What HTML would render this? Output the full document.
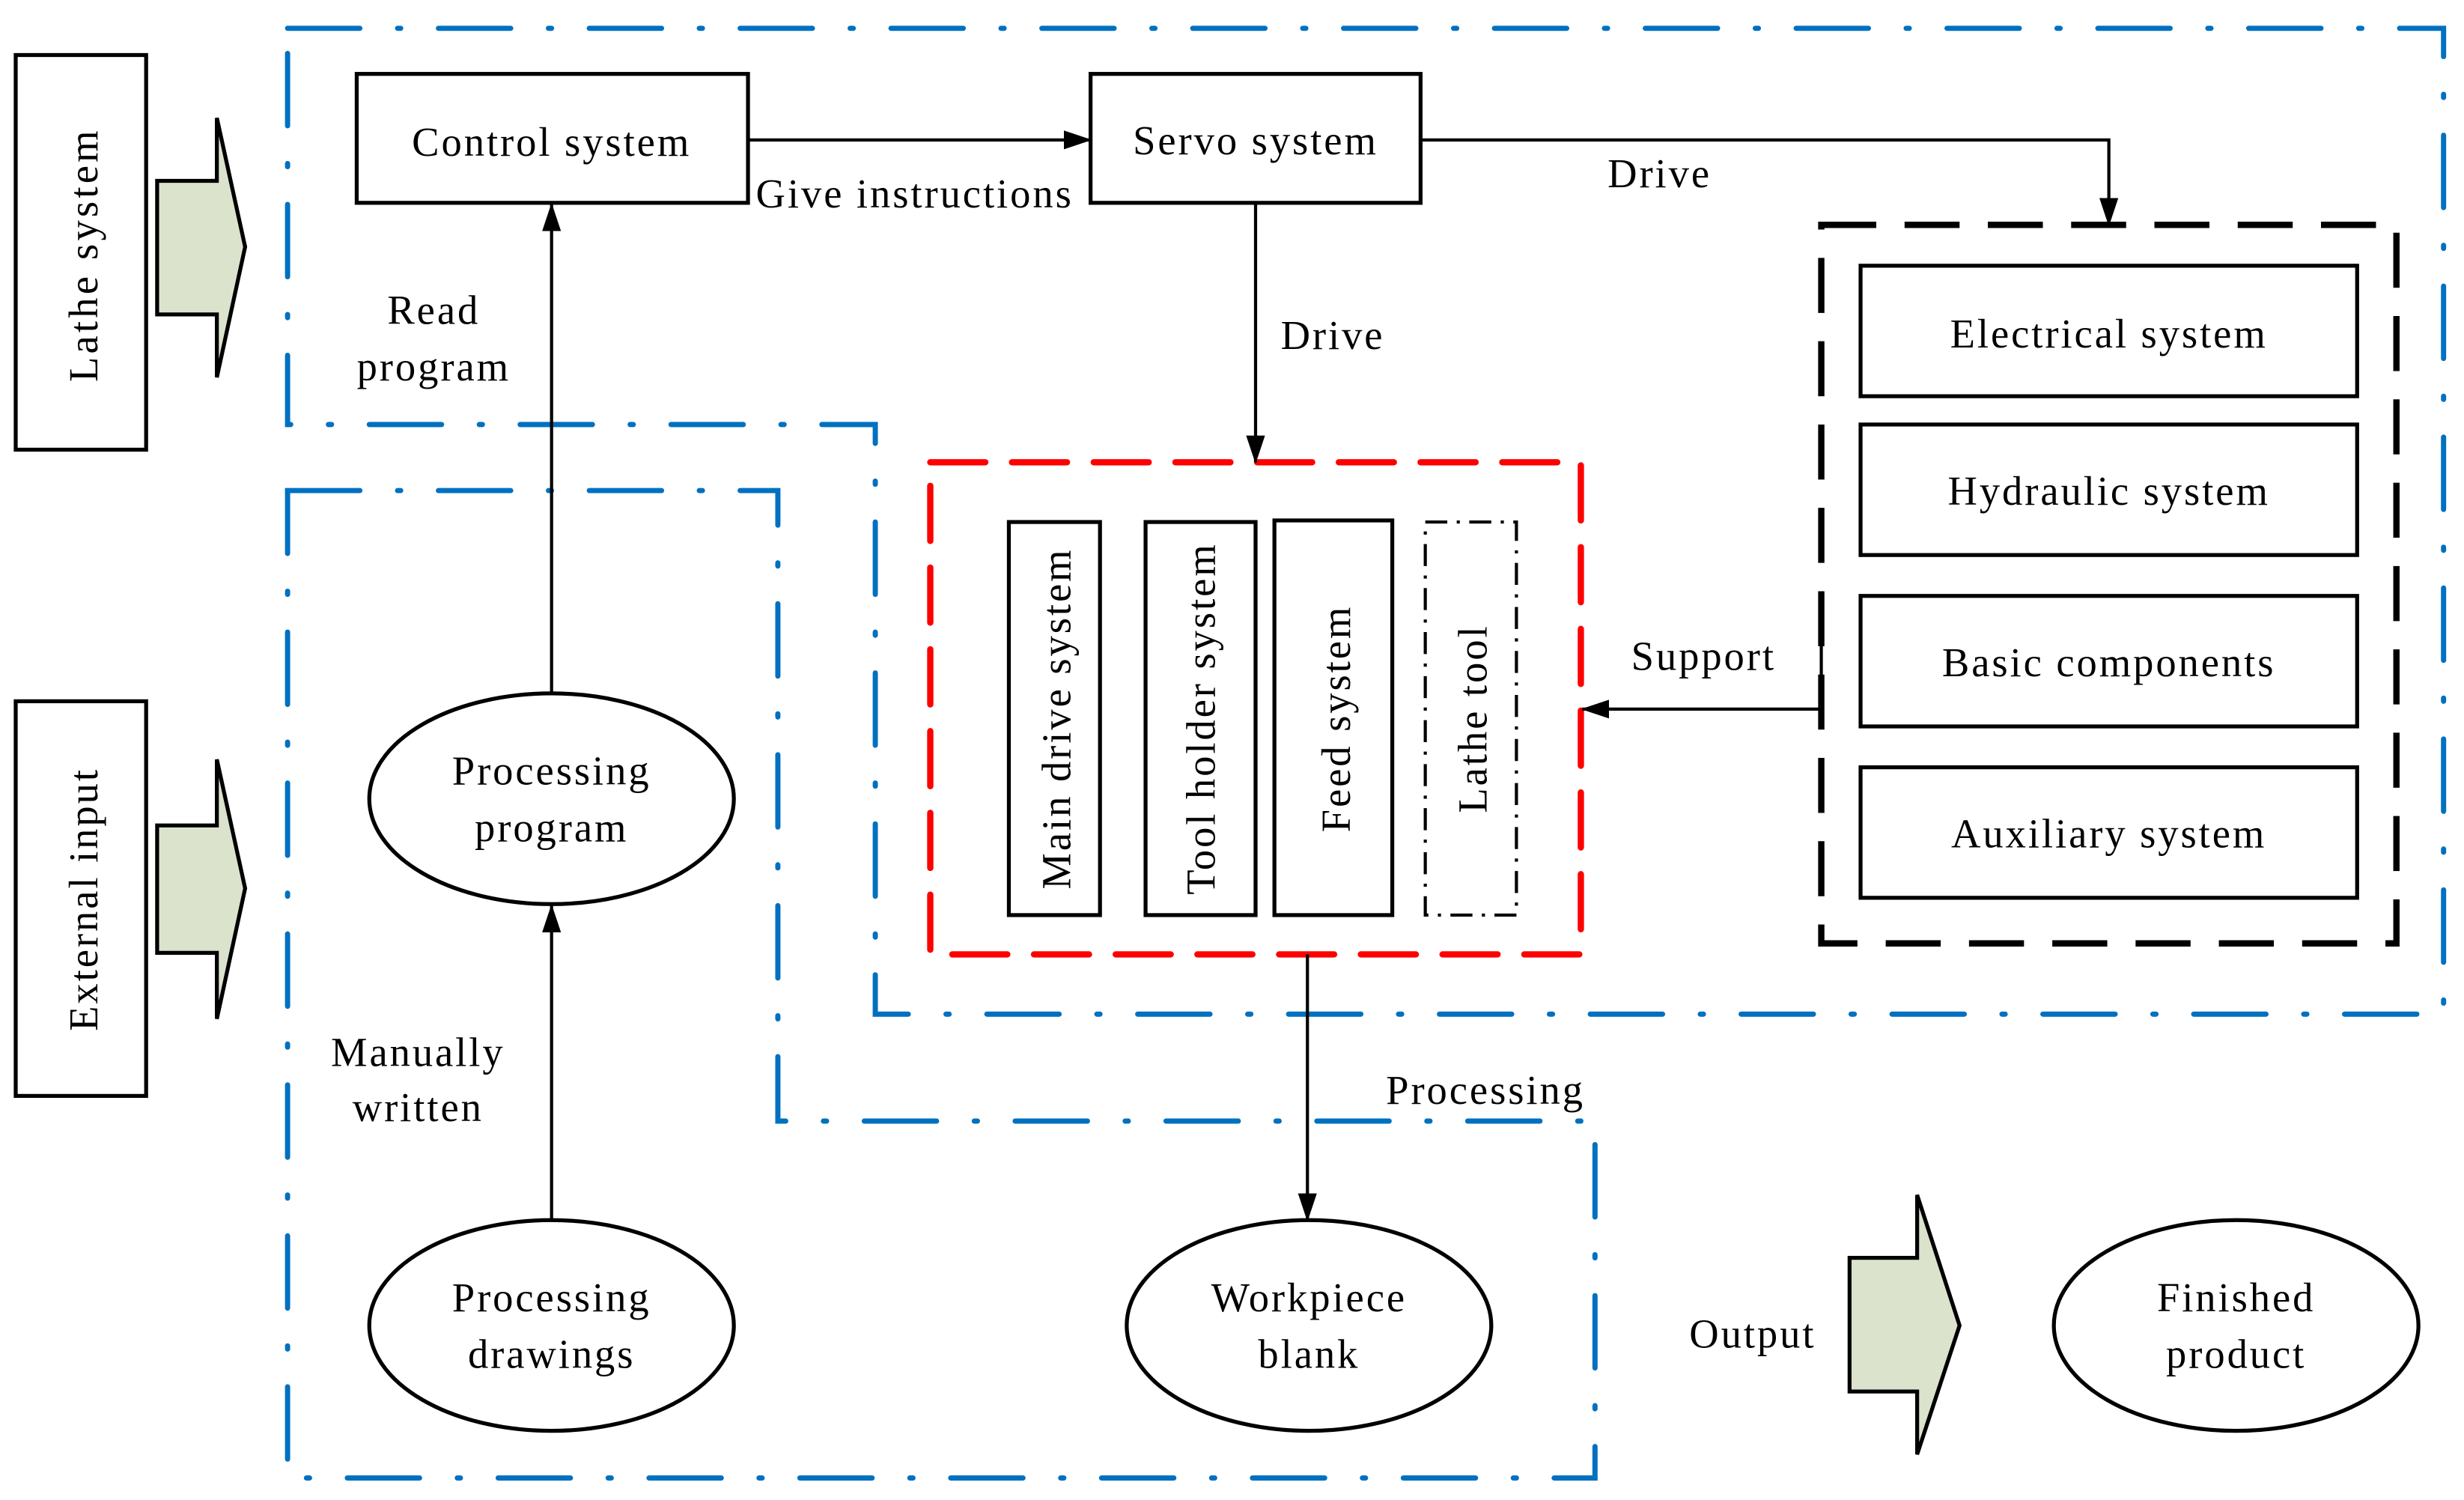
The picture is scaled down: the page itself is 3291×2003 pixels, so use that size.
<!DOCTYPE html>
<html><head><meta charset="utf-8"><style>
html,body{margin:0;padding:0;background:#fff;width:3291px;height:2003px;overflow:hidden}
svg{display:block}
text{font-family:"Liberation Serif",serif;font-size:26px;fill:#000;letter-spacing:1.4px}
</style></head><body>
<svg width="3291" height="2003" viewBox="0 0 1568 954" preserveAspectRatio="none" xmlns="http://www.w3.org/2000/svg">
<defs>
<marker id="ah" markerWidth="18" markerHeight="14" refX="17" refY="7" orient="auto" markerUnits="userSpaceOnUse" viewBox="0 0 18 14">
<path d="M0,1 L18,7 L0,13 z" fill="#000"/></marker>
</defs>
<g fill="none" stroke="#0070c0" stroke-width="3.3" stroke-dasharray="46 24 2 24" stroke-linecap="round">
<path d="M183,18 L1555,18 L1555,645 L557,645 L557,270 L183,270 Z"/>
<path d="M183,312 L495,312 L495,713 L1015,713 L1015,940 L183,940 Z"/>
</g>
<g fill="#fff" stroke="#000" stroke-width="2.5">
<rect x="10" y="35" width="83" height="251"/>
<rect x="10" y="446" width="83" height="251"/>
</g>
<text transform="translate(62,162) rotate(-90)" text-anchor="middle" style="letter-spacing:2px">Lathe system</text>
<text transform="translate(62,572) rotate(-90)" text-anchor="middle">External input</text>
<g fill="#dce3cd" stroke="#000" stroke-width="2.5">
<path d="M100,115 L138,115 L138,75 L156,157 L138,240 L138,200 L100,200 Z"/>
<path d="M100,525 L138,525 L138,483 L156,565 L138,648 L138,606 L100,606 Z"/>
<path d="M1177,800 L1220,800 L1220,760 L1247,843 L1220,925 L1220,885 L1177,885 Z"/>
</g>
<g fill="#fff" stroke="#000" stroke-width="2.5">
<rect x="227" y="47" width="249" height="82"/>
<rect x="694" y="47" width="210" height="82"/>
<rect x="1184" y="169" width="316" height="83"/>
<rect x="1184" y="270" width="316" height="83"/>
<rect x="1184" y="379" width="316" height="83"/>
<rect x="1184" y="488" width="316" height="83"/>
<rect x="642" y="332" width="58" height="250"/>
<rect x="729" y="332" width="70" height="250"/>
<rect x="811" y="331" width="75" height="251"/>
</g>
<rect x="907" y="332" width="58" height="250" fill="none" stroke="#000" stroke-width="2" stroke-dasharray="14 6 2 6"/>
<rect x="592" y="294" width="414" height="313" fill="none" stroke="#ff0000" stroke-width="4" stroke-dasharray="35 17" stroke-linecap="round"/>
<rect x="1159" y="143" width="366" height="457" fill="none" stroke="#000" stroke-width="4" stroke-dasharray="35 18"/>
<g fill="#fff" stroke="#000" stroke-width="2.5">
<ellipse cx="351" cy="508" rx="116" ry="67"/>
<ellipse cx="351" cy="843" rx="116" ry="67"/>
<ellipse cx="833" cy="843" rx="116" ry="67"/>
<ellipse cx="1423" cy="843" rx="116" ry="67"/>
</g>
<g stroke="#000" stroke-width="2" fill="none" marker-end="url(#ah)">
<line x1="476" y1="89" x2="694" y2="89"/>
<path d="M904,89 L1342,89 L1342,143"/>
<line x1="799" y1="129" x2="799" y2="294"/>
<line x1="351" y1="441" x2="351" y2="130"/>
<line x1="351" y1="776" x2="351" y2="576"/>
<line x1="832" y1="607" x2="832" y2="776"/>
<path d="M1159,400 L1159,451 L1007,451"/>
</g>
<g text-anchor="middle">
<text x="351" y="99">Control system</text>
<text x="799" y="98">Servo system</text>
<text x="1342" y="221">Electrical system</text>
<text x="1342" y="321">Hydraulic system</text>
<text x="1342" y="430">Basic components</text>
<text x="1342" y="539">Auxiliary system</text>
<text x="351" y="499">Processing</text>
<text x="351" y="535">program</text>
<text x="351" y="834">Processing</text>
<text x="351" y="870">drawings</text>
<text x="833" y="834">Workpiece</text>
<text x="833" y="870">blank</text>
<text x="1423" y="834">Finished</text>
<text x="1423" y="870">product</text>
<text x="276" y="206">Read</text>
<text x="276" y="242">program</text>
<text x="266" y="678">Manually</text>
<text x="266" y="713">written</text>
</g>
<text x="481" y="132">Give instructions</text>
<text x="1023" y="119">Drive</text>
<text x="815" y="222">Drive</text>
<text x="1038" y="426">Support</text>
<text x="882" y="702">Processing</text>
<text x="1075" y="857">Output</text>
<text transform="translate(681,457) rotate(-90)" text-anchor="middle">Main drive system</text>
<text transform="translate(773,457) rotate(-90)" text-anchor="middle">Tool holder system</text>
<text transform="translate(859,457) rotate(-90)" text-anchor="middle">Feed system</text>
<text transform="translate(946,457) rotate(-90)" text-anchor="middle">Lathe tool</text>
</svg>
</body></html>
